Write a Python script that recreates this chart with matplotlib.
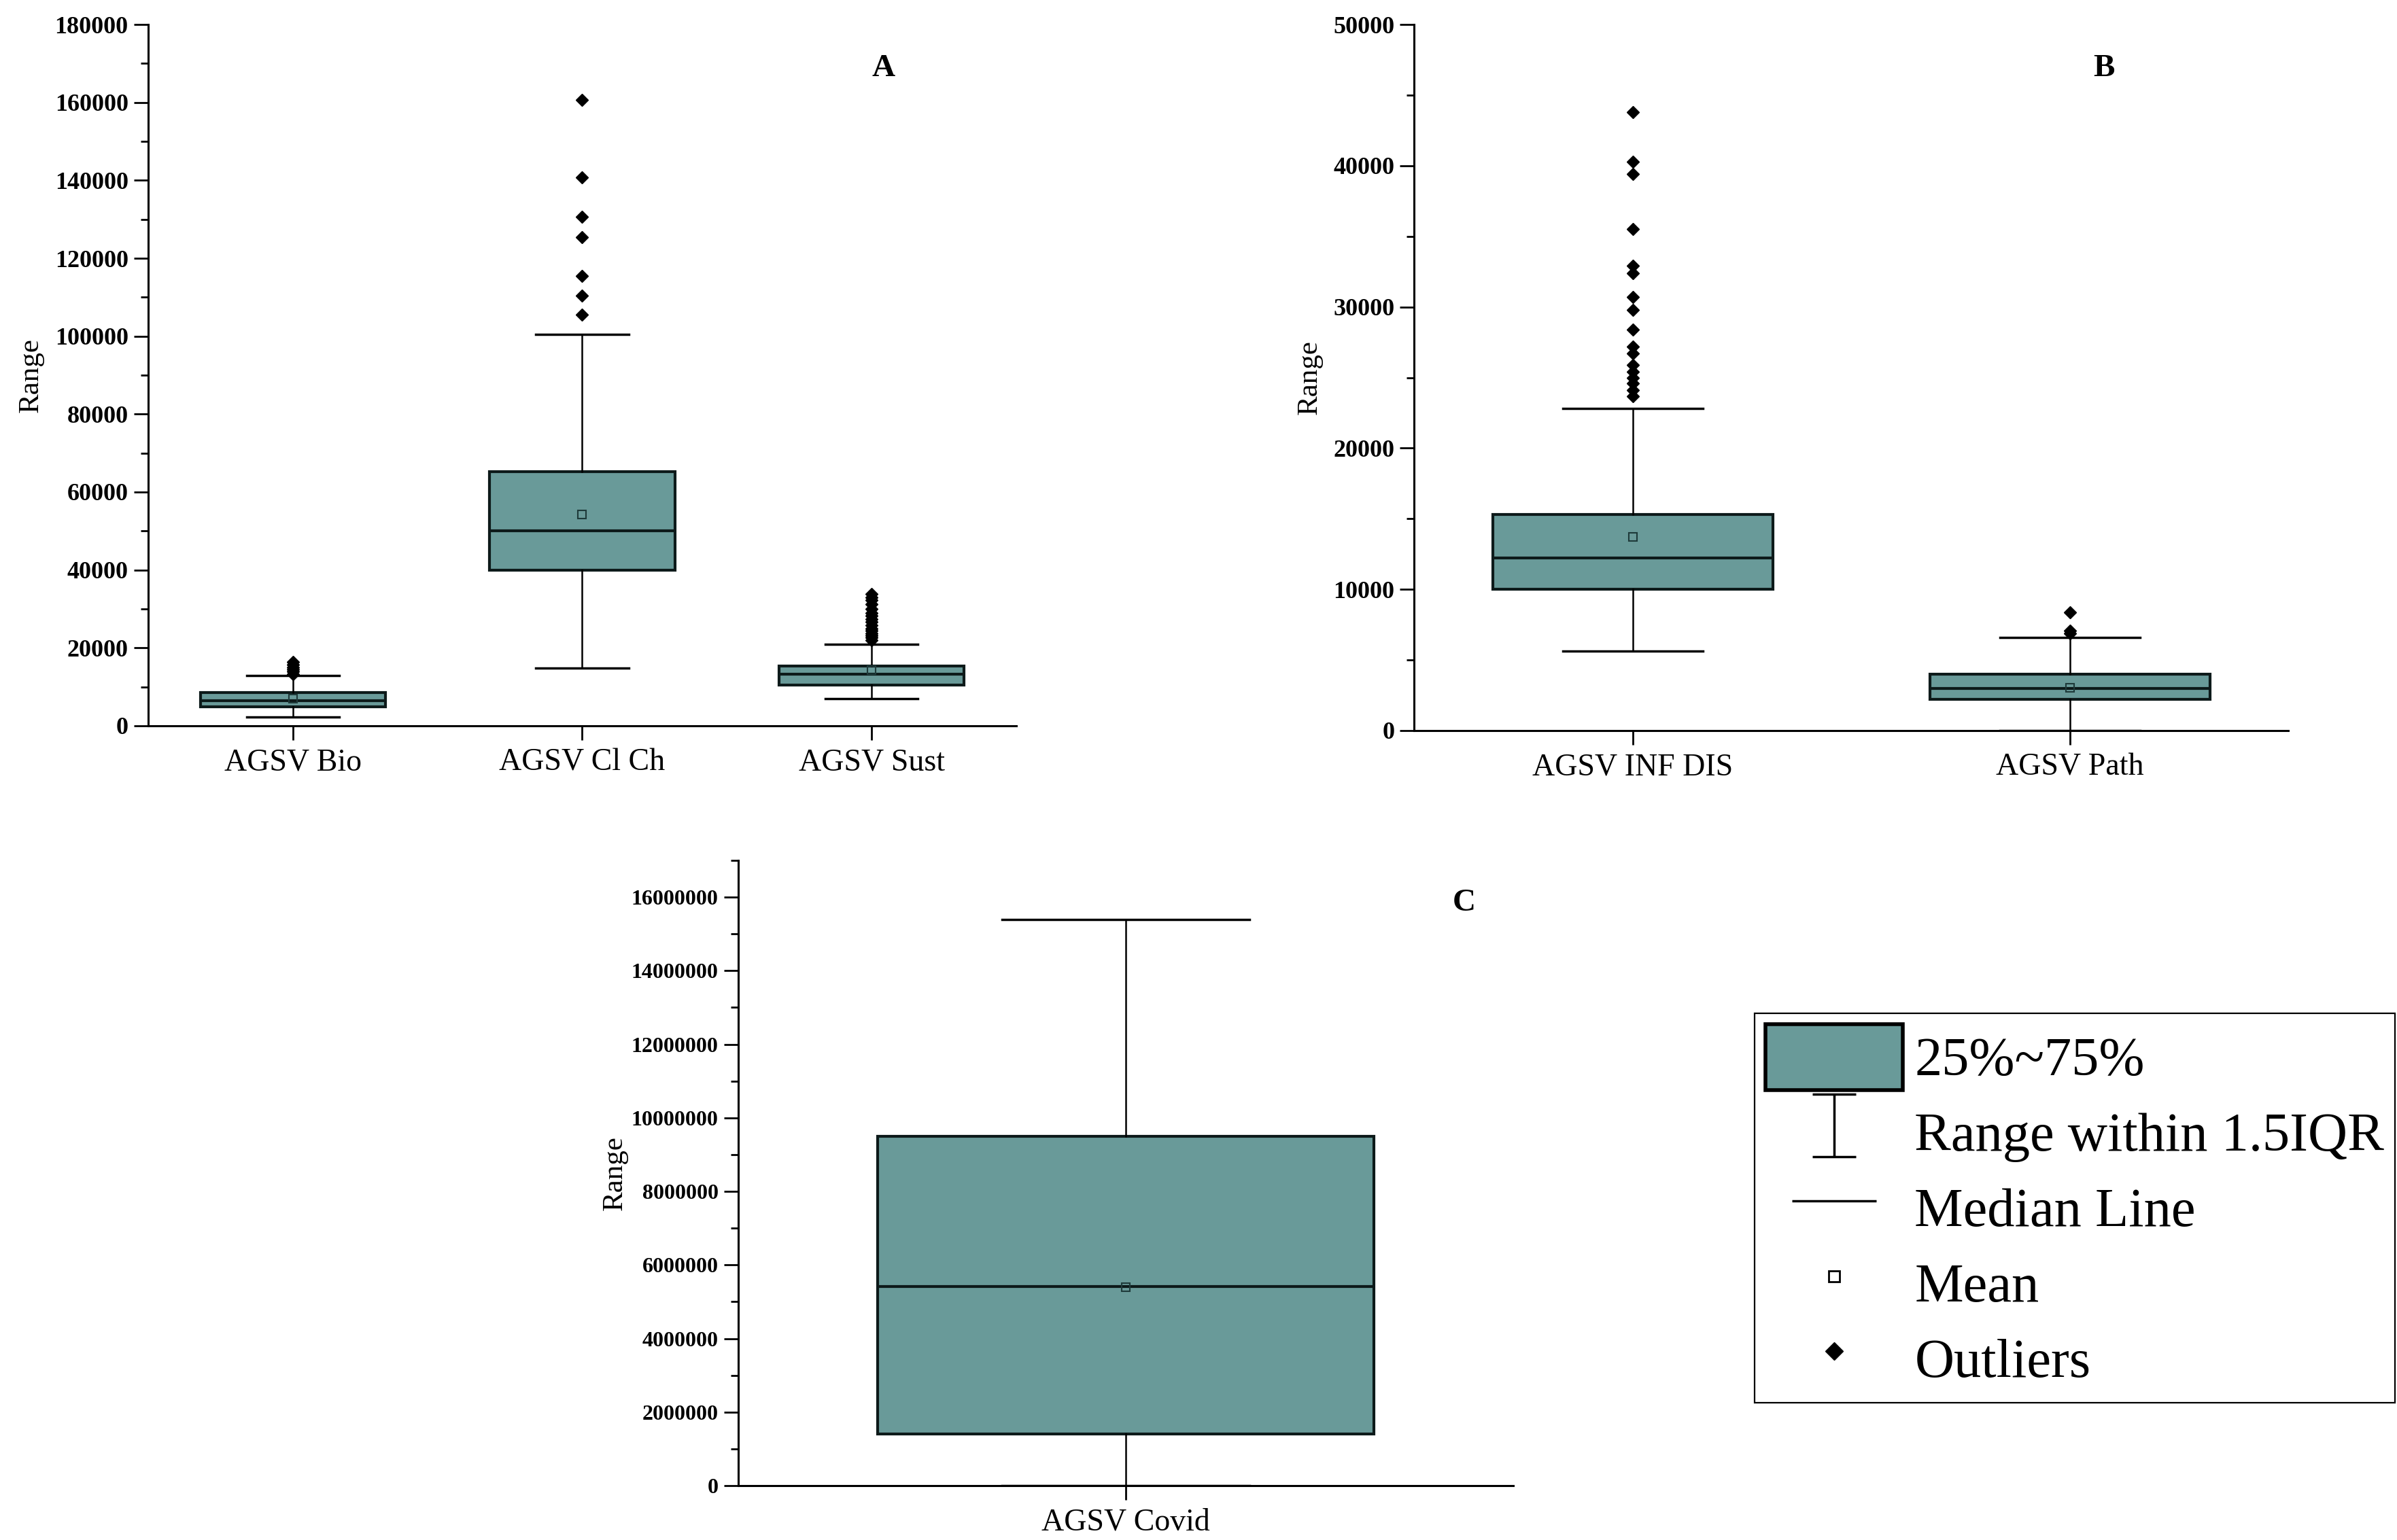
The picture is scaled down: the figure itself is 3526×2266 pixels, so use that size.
import matplotlib
matplotlib.use('Agg')
import matplotlib.pyplot as plt
import numpy as np
from matplotlib.lines import Line2D
from matplotlib.patches import Patch
from matplotlib.path import Path

plt.rcParams['font.family'] = ['Liberation Serif', 'DejaVu Serif']

TEAL = '#699a99'

# panel A
a_labels = ['AGSV Bio', 'AGSV Cl Ch', 'AGSV Sust']
a_q1 = [4800, 40000, 10400]
a_med = [6500, 50000, 13300]
a_q3 = [8600, 65300, 15300]
a_lo = [2200, 14800, 7000]
a_hi = [12900, 100400, 21000]
a_mean = [7000, 54300, 14300]
a_out = [
    [13300, 13900, 14400, 15000, 15700, 16400],
    [105500, 110400, 115500, 125400, 130600, 140700, 160700],
    [22000, 22600, 23200, 23800, 24400, 25000, 25800, 26600, 27400,
     28200, 29000, 30000, 31200, 32200, 33000, 33800],
]

# panel B
b_labels = ['AGSV INF DIS', 'AGSV Path']
b_q1 = [10000, 2200]
b_med = [12200, 3000]
b_q3 = [15300, 4000]
b_lo = [5650, 0]
b_hi = [22800, 6600]
b_mean = [13700, 3050]
b_out = [
    [23700, 24100, 24600, 25000, 25400, 25900, 26700, 27200, 28400,
     29800, 30700, 32400, 32900, 35500, 39400, 40300, 43800],
    [6900, 7050, 8350],
]

# panel C
c_labels = ['AGSV Covid']
c_q1 = [1400000]
c_med = [5410000]
c_q3 = [9500000]
c_lo = [0]
c_hi = [15400000]
c_mean = [5400000]
c_out = [[]]


def draw_panel(ax, labels, q1, med, q3, lo, hi, mean, out, ytop, ystep, letter, letter_xy, ylab_x, ysize):
    stats = []
    for i in range(len(labels)):
        stats.append(dict(label=labels[i], q1=q1[i], med=med[i], q3=q3[i],
                          whislo=lo[i], whishi=hi[i], mean=mean[i], fliers=out[i]))
    n = len(labels)
    ax.bxp(stats, positions=range(1, n + 1), widths=0.64, capwidths=0.32,
           patch_artist=True, showmeans=True,
           boxprops=dict(facecolor=TEAL, edgecolor='#0d1a1a', linewidth=3),
           medianprops=dict(color='#0d1a1a', linewidth=3),
           whiskerprops=dict(color='black', linewidth=1.8),
           capprops=dict(color='black', linewidth=2.5),
           meanprops=dict(marker='s', markerfacecolor='none', markeredgecolor='#1e3a3a',
                          markersize=8, markeredgewidth=1.5),
           flierprops=dict(marker='D', markerfacecolor='black', markeredgecolor='black',
                           markersize=9))
    ax.set_xlim(0.5, n + 0.5)
    ax.set_ylim(0, ytop)
    ax.set_yticks(np.arange(0, ytop + 1, ystep))
    ax.set_yticks(np.arange(0, ytop + 1, ystep / 2), minor=True)
    ax.ticklabel_format(axis='y', style='plain', useOffset=False)
    ax.spines['top'].set_visible(False)
    ax.spines['right'].set_visible(False)
    ax.spines['left'].set_linewidth(2.2)
    ax.spines['bottom'].set_linewidth(2.2)
    ax.tick_params(axis='y', which='major', length=15, width=2, labelsize=ysize, pad=6)
    ax.tick_params(axis='y', which='minor', length=8, width=2)
    ax.tick_params(axis='x', which='major', length=15, width=2, labelsize=33, pad=9)
    ax.set_ylabel('Range', fontsize=31)
    ax.yaxis.set_label_coords(ylab_x, 0.5)
    ax.text(letter_xy[0], letter_xy[1], letter, transform=ax.transAxes,
            fontsize=34, fontweight='bold', ha='center', va='center')


fig = plt.figure(figsize=(35.26, 22.66), dpi=100)

ax_a = fig.add_axes([0.0618, 0.5287, 0.3622, 0.4554])
draw_panel(ax_a, a_labels, a_q1, a_med, a_q3, a_lo, a_hi, a_mean, a_out,
           180000, 20000, 'A', (0.847, 0.937), -0.120, 26)

ax_b = fig.add_axes([0.590, 0.5256, 0.3647, 0.4585])
draw_panel(ax_b, b_labels, b_q1, b_med, b_q3, b_lo, b_hi, b_mean, b_out,
           50000, 10000, 'B', (0.789, 0.937), -0.105, 26)

ax_c = fig.add_axes([0.308, 0.0353, 0.3233, 0.406])
draw_panel(ax_c, c_labels, c_q1, c_med, c_q3, c_lo, c_hi, c_mean, c_out,
           17000000, 2000000, 'C', (0.937, 0.931), -0.142, 23)
ax_c.set_yticks(np.arange(0, 16000001, 2000000))

for ax in (ax_a, ax_b, ax_c):
    plt.setp(ax.get_yticklabels(), fontweight='bold')

# legend glyphs
ibeam = Path([(-0.35, 0.5), (0.35, 0.5), (0, 0.5), (0, -0.5), (-0.35, -0.5), (0.35, -0.5)],
             [Path.MOVETO, Path.LINETO, Path.MOVETO, Path.LINETO, Path.MOVETO, Path.LINETO])
handles = [
    Patch(facecolor=TEAL, edgecolor='black', linewidth=4),
    Line2D([], [], marker=ibeam, linestyle='none', color='black', markerfacecolor='none',
           markersize=66, markeredgewidth=2.5),
    Line2D([], [], marker='_', linestyle='none', color='black', markersize=89, markeredgewidth=2.5),
    Line2D([], [], marker='s', linestyle='none', markerfacecolor='none', markeredgecolor='black',
           markersize=12, markeredgewidth=2),
    Line2D([], [], marker='D', linestyle='none', color='black', markersize=13),
]
leg_labels = ['25%~75%', 'Range within 1.5IQR', 'Median Line', 'Mean', 'Outliers']
leg = fig.legend(handles, leg_labels, loc='upper left', bbox_to_anchor=(0.732, 0.342),
                 fontsize=58, handlelength=2.5, handleheight=1.48, handletextpad=0.22,
                 labelspacing=0.17, borderpad=0.2, borderaxespad=0, frameon=True,
                 fancybox=False, edgecolor='black', framealpha=1)
leg.get_frame().set_linewidth(1.6)

fig.savefig('out.png', dpi=100)
